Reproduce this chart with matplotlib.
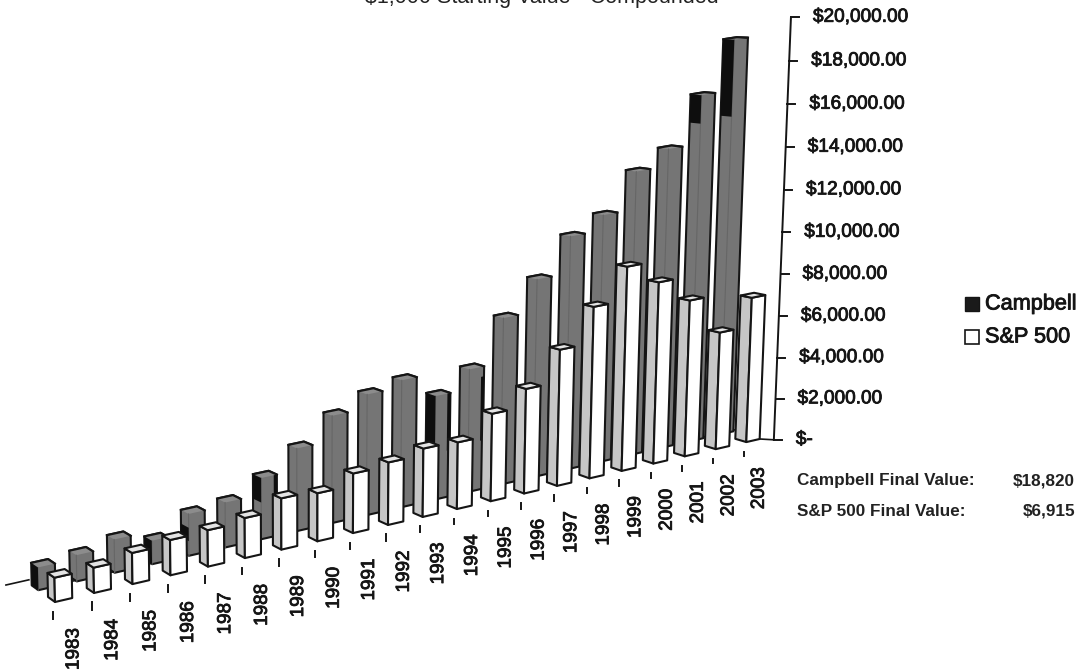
import numpy as np
import matplotlib
matplotlib.use('Agg')
import matplotlib.pyplot as plt
import matplotlib.patheffects as pe
from matplotlib.patches import Polygon, Rectangle

plt.rcParams['font.family'] = ['Liberation Sans', 'DejaVu Sans']

years = list(range(1983, 2004))
# values in thousands of dollars
campbell = [1.00, 1.16, 1.48, 1.05, 1.88, 2.03, 2.78, 3.77, 4.91, 5.55, 5.87,
            4.82, 5.73, 7.79, 9.28, 10.98, 11.69, 13.44, 14.23, 16.48, 18.82]
sp500 = [1.05, 1.10, 1.36, 1.55, 1.61, 1.78, 2.29, 2.16, 2.69, 2.84, 3.12,
         3.06, 4.03, 4.84, 6.32, 7.98, 9.53, 8.52, 7.38, 5.57, 6.915]
axis_values = list(range(0, 22, 2))
axis_labels = ['$-', '$2,000.00', '$4,000.00', '$6,000.00', '$8,000.00', '$10,000.00',
               '$12,000.00', '$14,000.00', '$16,000.00', '$18,000.00', '$20,000.00']
# parts of the Campbell faces that came out black in the print (fractions of height)
dark_left = {1983: (0, 1), 1986: (0, 1), 1987: (0.35, 0.67), 1989: (0.6, 1),
             1994: (0, 1), 2002: (0.92, 1), 2003: (0.81, 1)}
dark_right = {1986: (0, 0.3), 1989: (0.3, 1), 1994: (0.45, 1), 1995: (0.4, 0.92)}

BAR_U = 0.44   # bar width along the years
BAR_D = 1.0    # bar depth
CAMPBELL_D = 2.4
WALL_U = 20.65
WALL_D = -0.7
WALL_SCALE = 0.988

CAMPBELL_FACE = '#757575'
CAMPBELL_TOP = '#8c8c8c'
SP_FRONT = '#ffffff'
SP_SIDE = '#c6c6c6'
SP_TOP = '#e4e4e4'
INK = '#151515'
HEAVY = [pe.withStroke(linewidth=0.6, foreground=INK)]


def proj(u, d, v):
    # perspective of the 3D chart: u = year index, d = depth, v = $ thousands
    w = 1 + 0.0068 * u + 0.008 * d - 0.002 * v
    x = 55 + 39.64 * u - 6.6 * d - 0.6 * v
    y = 602 - 4.99 * u - 0.2 * d - 24.3 * v
    return x / w, y / w


def sp_bar(ax, u, d, v, zorder):
    a0, a1 = proj(u, d, 0), proj(u, d, v)
    b0, b1 = proj(u + BAR_U, d, 0), proj(u + BAR_U, d, v)
    c0, c1 = proj(u, d + BAR_D, 0), proj(u, d + BAR_D, v)
    e1 = proj(u + BAR_U, d + BAR_D, v)
    for pts, col in [([c0, a0, a1, c1], SP_SIDE), ([a0, b0, b1, a1], SP_FRONT), ([a1, b1, e1, c1], SP_TOP)]:
        ax.add_patch(Polygon(pts, closed=True, fc=col, ec=INK, lw=1.5, joinstyle='round', zorder=zorder))


def campbell_bar(ax, u, d, v, zorder):
    # the edge between the two faces hardly shows on the dark bars
    a0, a1 = proj(u, d, 0), proj(u, d, v)
    b0, b1 = proj(u + BAR_U, d, 0), proj(u + BAR_U, d, v)
    c0, c1 = proj(u, d + BAR_D, 0), proj(u, d + BAR_D, v)
    e1 = proj(u + BAR_U, d + BAR_D, v)
    ax.add_patch(Polygon([c0, a0, b0, b1, e1, c1], closed=True, fc=CAMPBELL_FACE, ec=INK, lw=1.5,
                         joinstyle='round', zorder=zorder))
    ax.add_patch(Polygon([a1, b1, e1, c1], closed=True, fc=CAMPBELL_TOP, ec='none', zorder=zorder))
    ax.plot([a0[0], a1[0]], [a0[1], a1[1]], color='#666666', lw=0.8, zorder=zorder)
    ax.plot([c1[0], e1[0], b1[0]], [c1[1], e1[1], b1[1]], color=INK, lw=1.6, zorder=zorder)


def left_strip(ax, u, d, v, span, zorder):
    lo, hi = span
    pts = [proj(u, d + BAR_D, v * lo), proj(u, d, v * lo), proj(u, d, v * hi), proj(u, d + BAR_D, v * hi)]
    ax.add_patch(Polygon(pts, closed=True, fc='#0e0e0e', ec='none', zorder=zorder))


def right_strip(ax, u, d, v, span, zorder):
    lo, hi = span
    u0 = u + BAR_U * 0.8
    u1 = u + BAR_U
    pts = [proj(u0, d, v * lo), proj(u1, d, v * lo), proj(u1, d, v * hi), proj(u0, d, v * hi)]
    ax.add_patch(Polygon(pts, closed=True, fc='#0e0e0e', ec='none', zorder=zorder))


fig = plt.figure(figsize=(10.79, 6.70), dpi=100)
ax = fig.add_axes([0, 0, 1, 1])
ax.set_xlim(0, 1079)
ax.set_ylim(670, 0)
ax.axis('off')

# title is cut off by the top of the scan
ax.text(542, 2.5, '$1,000 Starting Value - Compounded', ha='center', va='baseline', fontsize=15.5, color='#222222')

# floor line behind the bars, with the stub left of the first bar
fx, fy = zip(proj(-0.5, 4.4, 0), proj(0.1, 4.4, 0))
ax.plot(fx, fy, color=INK, lw=1.2, zorder=1)
fx, fy = zip(proj(0, CAMPBELL_D + 0.2, 0), proj(20.6, CAMPBELL_D + 0.2, 0))
ax.plot(fx, fy, color=INK, lw=1.2, zorder=1)

n = len(years)
for i in range(n - 1, -1, -1):
    z = 2 + (n - i) * 0.01
    campbell_bar(ax, i, CAMPBELL_D, campbell[i], z)
    if years[i] in dark_left:
        left_strip(ax, i, CAMPBELL_D, campbell[i], dark_left[years[i]], z)
    if years[i] in dark_right:
        right_strip(ax, i, CAMPBELL_D, campbell[i], dark_right[years[i]], z)

for i in range(n - 1, -1, -1):
    sp_bar(ax, i, 0, sp500[i], 3 + (n - i) * 0.01)

# year ticks and labels
for i, yr in enumerate(years):
    bx, by = proj(i, 0, 0)
    ax.plot([bx - 2.5, bx - 2.5], [by + 9.5, by + 17 - 0.15 * i], color=INK, lw=1.4, zorder=1)
    ax.text(bx + 19 - 0.3 * i, by + 47 - 0.05 * i, str(yr), rotation=90, ha='center', va='center',
            fontsize=13.6, color=INK, path_effects=HEAVY)

# value axis on the right wall
wall = [proj(WALL_U, WALL_D, v * WALL_SCALE) for v in axis_values]
ax.plot([p[0] for p in wall], [p[1] for p in wall], color=INK, lw=1.4, zorder=4)
cx, cy = proj(20 + BAR_U, 0, 0)
ax.plot([cx, wall[0][0]], [cy, wall[0][1]], color=INK, lw=1.2, zorder=2)
for (wx, wy), lab in zip(wall, axis_labels):
    ax.plot([wx, wx + 8], [wy, wy], color=INK, lw=1.4, zorder=4)
    ax.text(wx + 22, wy, lab, ha='left', va='center', fontsize=13.7, color=INK, path_effects=HEAVY)

# legend
ax.add_patch(Rectangle((965, 297), 14, 14, fc='#1a1a1a', ec=INK, lw=1))
ax.text(985, 304, 'Campbell', ha='left', va='center', fontsize=15.6, color=INK, path_effects=HEAVY)
ax.add_patch(Rectangle((965, 330), 14, 14, fc='white', ec=INK, lw=1.2))
ax.text(985, 337, 'S&P 500', ha='left', va='center', fontsize=15.6, color=INK, path_effects=HEAVY)

# final values
ax.text(797, 481, 'Campbell Final Value:', ha='left', va='center', fontsize=12.3, fontweight='bold', color='#222222')
ax.text(1075, 481, '$18,820', ha='right', va='center', fontsize=12.3, fontweight='bold', color='#222222')
ax.text(797, 511, 'S&P 500 Final Value:', ha='left', va='center', fontsize=12.3, fontweight='bold', color='#222222')
ax.text(1075, 511, '$6,915', ha='right', va='center', fontsize=12.3, fontweight='bold', color='#222222')

fig.savefig('out.png', dpi=100)
